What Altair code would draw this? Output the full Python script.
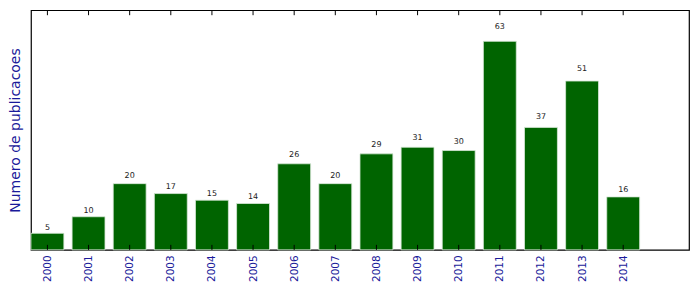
import altair as alt
import pandas as pd

years = [2000, 2001, 2002, 2003, 2004, 2005, 2006, 2007, 2008, 2009, 2010, 2011, 2012, 2013, 2014]
counts = [5, 10, 20, 17, 15, 14, 26, 20, 29, 31, 30, 63, 37, 51, 16]

df = pd.DataFrame({"year": years, "count": counts})
df["x0"] = df["year"] - 0.4
df["x1"] = df["year"] + 0.4
df["base"] = 0
df["lab"] = df["count"] * 1.05

W, H = 659, 240
xs = alt.Scale(domain=[1999.6, 2015.6], nice=False, zero=False)
ys = alt.Scale(domain=[0, 72.4], nice=False, zero=False)
FONT = "DejaVu Sans"

base = alt.Chart(df)

bars = base.mark_bar(color="#006400", stroke="#d8e8d8", strokeWidth=0.8).encode(
    x=alt.X("x0:Q", scale=xs, axis=alt.Axis(
        values=years, format="d", labelAngle=-90, labelColor="#1a1a9a",
        labelFont=FONT, labelFontSize=10.5, ticks=False, domain=False,
        grid=False, title=None, labelPadding=5, labelAlign="right",
        labelBaseline="middle", labelFlush=False, labelOverlap=False)),
    x2="x1:Q",
    y=alt.Y("count:Q", scale=ys, axis=alt.Axis(
        labels=False, ticks=False, grid=False, domain=False,
        title="Numero de publicacoes", titleColor="#1a1a9a", titleFont=FONT,
        titleFontSize=14, titleFontWeight="normal", titleX=-15, titleY=H / 2,
        titleAngle=-90, titleAlign="center", titleBaseline="middle")),
    y2="base:Q",
)

labels = base.mark_text(font=FONT, fontSize=8, color="#222222", baseline="bottom", dy=0).encode(
    x=alt.X("year:Q", scale=xs),
    y=alt.Y("lab:Q", scale=ys),
    text=alt.Text("count:Q"),
)

top_ticks = base.mark_rule(color="black", strokeWidth=1).encode(
    x=alt.X("year:Q", scale=xs), y=alt.value(0), y2=alt.value(5))
bot_ticks = base.mark_rule(color="black", strokeWidth=1).encode(
    x=alt.X("year:Q", scale=xs), y=alt.value(H), y2=alt.value(H - 5))

chart = alt.layer(bars, labels, top_ticks, bot_ticks).properties(
    width=W, height=H,
    autosize=alt.AutoSizeParams(type="none"),
    padding={"left": 23, "top": 2, "right": 2, "bottom": 34},
).configure(
    background="white",
    view=alt.ViewConfig(stroke="black", strokeWidth=1.2),
)

chart.save("out.html", embed_options={"renderer": "svg", "actions": False})
